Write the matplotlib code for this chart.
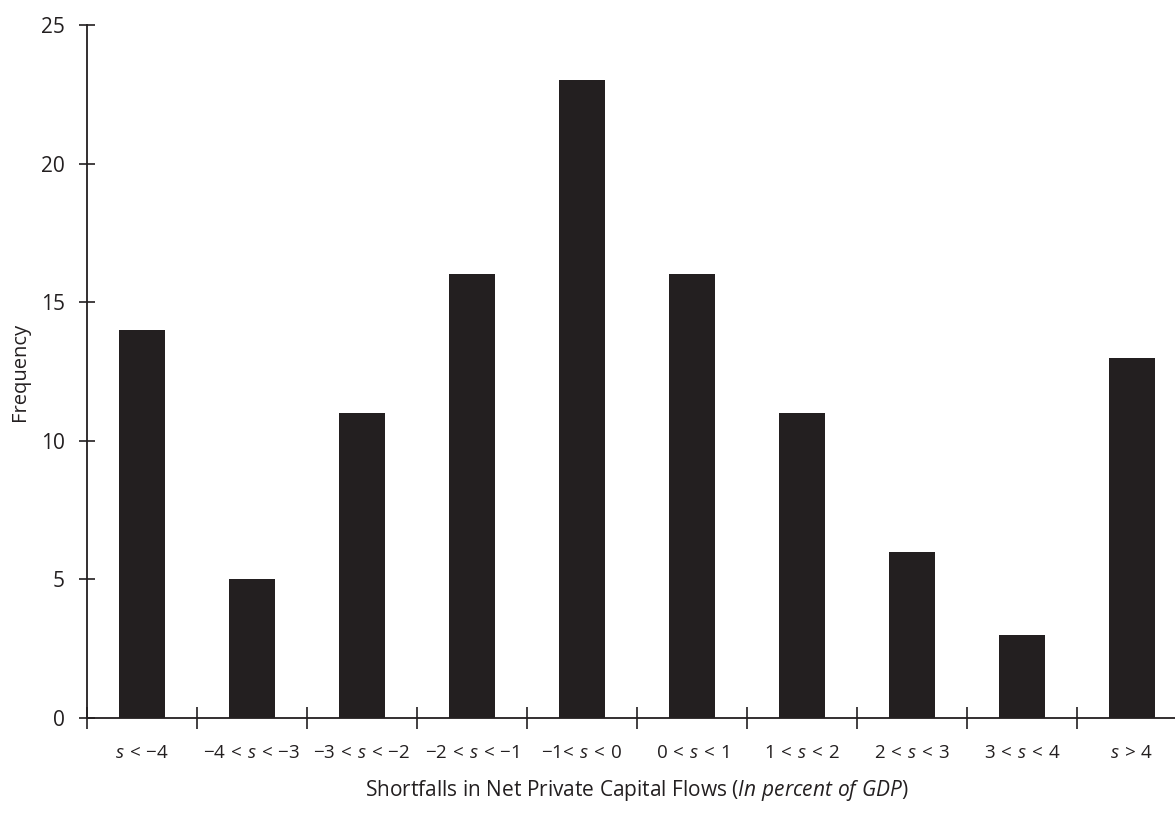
import matplotlib
matplotlib.use('Agg')
import matplotlib.pyplot as plt
import numpy as np

plt.rcParams['font.family'] = ['Open Sans', 'DejaVu Sans']
plt.rcParams['mathtext.fontset'] = 'custom'
plt.rcParams['mathtext.rm'] = 'Open Sans'
plt.rcParams['mathtext.it'] = 'Open Sans:italic'

# data
bins = [r'$s\,<\,{-}4$', r'${-}4\,<\,s\,<\,{-}3$', r'${-}3\,<\,s\,<\,{-}2$', r'${-}2\,<\,s\,<\,{-}1$',
        r'${-}1\!<\,s\,<\,0$', r'$0\,<\,s\,<\,1$', r'$1\,<\,s\,<\,2$', r'$2\,<\,s\,<\,3$',
        r'$3\,<\,s\,<\,4$', r'$s\,>\,4$']
freq = [14, 5, 11, 16, 23, 16, 11, 6, 3, 13]

dark = '#231f20'

fig = plt.figure(figsize=(11.75, 8.14), dpi=100)
ax = fig.add_axes([87 / 1175, 1 - 718 / 814, 1100 / 1175, 693 / 814])

x = np.arange(len(freq))
ax.bar(x, freq, width=0.42, color=dark)

ax.set_xlim(-0.5, len(freq) - 0.5)
ax.set_ylim(0, 25)
ax.set_yticks([0, 5, 10, 15, 20, 25])
ax.set_xticks(np.arange(len(freq) + 1) - 0.5)
ax.set_xticklabels([])
ax.set_xticks(x, minor=True)
ax.set_xticklabels(bins, minor=True, fontsize=13.5, color=dark)
ax.tick_params(axis='x', which='minor', length=0, pad=19)
ax.tick_params(axis='x', which='major', direction='inout', length=16, width=1.2, color=dark)
ax.tick_params(axis='y', direction='inout', length=12, width=1.2, color=dark,
               labelsize=15, pad=10, labelcolor=dark)

for s in ['top', 'right']:
    ax.spines[s].set_visible(False)
for s in ['left', 'bottom']:
    ax.spines[s].set_color(dark)
    ax.spines[s].set_linewidth(1.3)

ax.set_ylabel('Frequency', fontsize=14.5, color=dark, labelpad=8)
ax.set_xlabel('Shortfalls in Net Private Capital Flows ($\\it{In\\ percent\\ of\\ GDP}$)',
              fontsize=15, color=dark, labelpad=11)

fig.savefig('out.png', dpi=100)
